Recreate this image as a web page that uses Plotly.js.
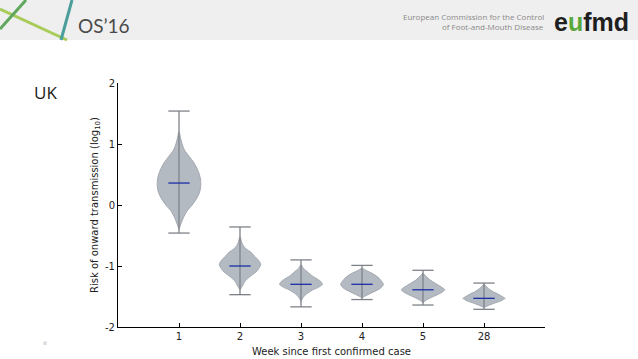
<!DOCTYPE html>
<html>
<head>
<meta charset="utf-8">
<script src="https://cdn.plot.ly/plotly-3.0.1.min.js"></script>
<style>html,body{margin:0;padding:0;background:#fff;}#chart{width:638px;height:359px;}</style>
</head>
<body>
<div id="chart"></div>
<script>
// ---- data ----
const categories = ["1", "2", "3", "4", "5", "28"];
const yTickVals = [-2, -1, 0, 1, 2];
const yTickText = ["-2", "-1", "0", "1", "2"];

// violin outlines: levels (log10 risk) and half-widths (category units)
const week1Levels = [1.20, 1.10, 1.00, 0.90, 0.80, 0.70, 0.60, 0.50, 0.40, 0.30, 0.20, 0.10, 0.00, -0.10, -0.20, -0.30, -0.40];
const week1Widths = [0, 0.025, 0.05, 0.09, 0.165, 0.24, 0.295, 0.335, 0.355, 0.355, 0.335, 0.285, 0.215, 0.13, 0.075, 0.035, 0];
const week2Levels = [-0.52, -0.60, -0.66, -0.72, -0.77, -0.83, -0.88, -0.93, -0.98, -1.04, -1.10, -1.16, -1.21, -1.26, -1.31, -1.35, -1.39];
const week2Widths = [0, 0.025, 0.05, 0.10, 0.175, 0.23, 0.28, 0.32, 0.34, 0.31, 0.26, 0.18, 0.12, 0.075, 0.05, 0.025, 0];
const week3Levels = [-0.98, -1.04, -1.09, -1.15, -1.20, -1.25, -1.30, -1.35, -1.39, -1.44, -1.48, -1.53, -1.58];
const week3Widths = [0, 0.04, 0.10, 0.165, 0.245, 0.32, 0.35, 0.285, 0.195, 0.115, 0.065, 0.025, 0];
const week4Levels = [-1.04, -1.08, -1.12, -1.16, -1.20, -1.25, -1.30, -1.35, -1.39, -1.43, -1.46, -1.49, -1.52];
const week4Widths = [0, 0.08, 0.165, 0.23, 0.28, 0.32, 0.35, 0.32, 0.26, 0.18, 0.115, 0.057, 0];
const week5Levels = [-1.12, -1.17, -1.23, -1.27, -1.31, -1.35, -1.39, -1.44, -1.48, -1.52, -1.56, -1.60];
const week5Widths = [0, 0.05, 0.115, 0.18, 0.245, 0.31, 0.355, 0.295, 0.215, 0.125, 0.05, 0];
const week28Levels = [-1.30, -1.35, -1.39, -1.43, -1.46, -1.50, -1.53, -1.57, -1.60, -1.63, -1.65, -1.68];
const week28Widths = [0, 0.05, 0.10, 0.165, 0.23, 0.295, 0.345, 0.28, 0.195, 0.115, 0.065, 0];

const maxima  = [1.54, -0.36, -0.90, -0.99, -1.07, -1.28];
const minima  = [-0.46, -1.47, -1.67, -1.55, -1.64, -1.71];
const medians = [0.36, -1.00, -1.30, -1.30, -1.39, -1.53];

// ---- build traces ----
const levels = [week1Levels, week2Levels, week3Levels, week4Levels, week5Levels, week28Levels];
const widths = [week1Widths, week2Widths, week3Widths, week4Widths, week5Widths, week28Widths];
const capHalf = 0.175;
const traces = [];

categories.forEach((c, i) => {
  const xs = [], ys = [];
  levels[i].forEach((y, k) => { xs.push(i + widths[i][k]); ys.push(y); });
  for (let k = levels[i].length - 1; k >= 0; k--) { xs.push(i - widths[i][k]); ys.push(levels[i][k]); }
  traces.push({
    type: 'scatter', mode: 'lines', x: xs, y: ys, fill: 'toself',
    fillcolor: 'rgb(180,186,194)', line: {color: '#a3a8b0', width: 1, shape: 'spline', smoothing: 0.8},
    hoverinfo: 'skip', showlegend: false
  });
});
// whisker lines and caps
const wx = [], wy = [];
categories.forEach((c, i) => {
  wx.push(i, i, null, i - capHalf, i + capHalf, null, i - capHalf, i + capHalf, null);
  wy.push(minima[i], maxima[i], null, maxima[i], maxima[i], null, minima[i], minima[i], null);
});
traces.push({type: 'scatter', mode: 'lines', x: wx, y: wy, line: {color: '#7e8288', width: 1.3}, hoverinfo: 'skip', showlegend: false});
// medians
const mx = [], my = [];
categories.forEach((c, i) => { mx.push(i - capHalf, i + capHalf, null); my.push(medians[i], medians[i], null); });
traces.push({type: 'scatter', mode: 'lines', x: mx, y: my, line: {color: '#1b2fa8', width: 1.3}, hoverinfo: 'skip', showlegend: false});

// ---- layout helpers (pixel -> paper) ----
const L = 118, T = 83, W = 427, H = 244;
const px = v => (v - L) / W;
const py = v => (T + H - v) / H;

const layout = {
  width: 638, height: 359,
  margin: {l: L, r: 638 - L - W, t: T, b: 359 - T - H},
  paper_bgcolor: '#ffffff', plot_bgcolor: '#ffffff',
  font: {family: 'DejaVu Sans, sans-serif', size: 10, color: '#222'},
  showlegend: false,
  xaxis: {
    range: [-1, 6], tickvals: categories.map((c, i) => i), ticktext: categories,
    showgrid: false, zeroline: false, showline: true, linecolor: '#000', linewidth: 1,
    ticks: 'inside', ticklen: 4, tickcolor: '#000', tickfont: {size: 10, color: '#222'},
    title: {text: 'Week since first confirmed case', font: {size: 10, color: '#222'}, standoff: 6},
    fixedrange: true
  },
  yaxis: {
    range: [-2, 2], tickvals: yTickVals, ticktext: yTickText,
    showgrid: false, zeroline: false, showline: true, linecolor: '#000', linewidth: 1,
    ticks: 'inside', ticklen: 4, tickcolor: '#000', tickfont: {size: 10, color: '#222'},
    title: {text: 'Risk of onward transmission (log<sub>10</sub>)', font: {size: 10, color: '#222'}, standoff: 4},
    fixedrange: true
  },
  shapes: [
    {type: 'rect', xref: 'paper', yref: 'paper', x0: px(0), x1: px(638), y0: py(0), y1: py(40), fillcolor: '#efefef', line: {width: 0}, layer: 'below'},
    {type: 'line', xref: 'paper', yref: 'paper', x0: px(0), y0: py(9), x1: px(67), y1: py(40), line: {color: '#a8cc5a', width: 3}},
    {type: 'line', xref: 'paper', yref: 'paper', x0: px(26), y0: py(0), x1: px(0), y1: py(29), line: {color: '#5fa85e', width: 3}},
    {type: 'line', xref: 'paper', yref: 'paper', x0: px(72), y0: py(0), x1: px(61), y1: py(40), line: {color: '#4c9e9a', width: 3}}
  ],
  annotations: [
    {xref: 'paper', yref: 'paper', x: px(76), y: py(25), xanchor: 'left', yanchor: 'middle', showarrow: false,
     text: "OS’16", font: {family: 'Lato, Open Sans, sans-serif', size: 19, color: '#4a4a4a'}},
    {xref: 'paper', yref: 'paper', x: px(546), y: py(16), xanchor: 'right', yanchor: 'middle', showarrow: false,
     text: 'European Commission for the Control', font: {family: 'Open Sans, sans-serif', size: 8, color: '#8a8a8a'}},
    {xref: 'paper', yref: 'paper', x: px(546), y: py(27), xanchor: 'right', yanchor: 'middle', showarrow: false,
     text: 'of Foot-and-Mouth Disease', font: {family: 'Open Sans, sans-serif', size: 8, color: '#8a8a8a'}},
    {xref: 'paper', yref: 'paper', x: px(552), y: py(22), xanchor: 'left', yanchor: 'middle', showarrow: false,
     text: "<b>e<span style='color:#58a83c'>u</span>fmd</b>", font: {family: 'Liberation Sans, sans-serif', size: 25, color: '#1f1f1f'}},
    {xref: 'paper', yref: 'paper', x: px(32), y: py(92), xanchor: 'left', yanchor: 'middle', showarrow: false,
     text: 'UK', font: {family: 'Open Sans, sans-serif', size: 17, color: '#1a1a1a'}},
    {xref: 'paper', yref: 'paper', x: px(45), y: py(342), xanchor: 'center', yanchor: 'middle', showarrow: false,
     text: '¤', font: {family: 'DejaVu Sans, sans-serif', size: 6, color: '#aaaaaa'}}
  ]
};

Plotly.newPlot('chart', traces, layout, {staticPlot: true, displayModeBar: false});
</script>
</body>
</html>
